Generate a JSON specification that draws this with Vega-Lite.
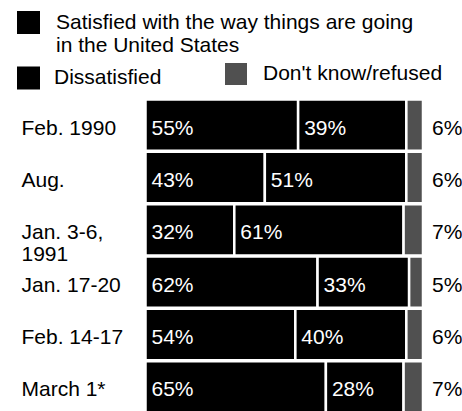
{
  "$schema": "https://vega.github.io/schema/vega-lite/v6.json",
  "autosize": "none",
  "width": 277.5,
  "height": 314,
  "padding": {"left": 145.5, "top": 99, "right": 39, "bottom": 0},
  "background": "white",
  "config": {"view": {"stroke": null}, "font": "Liberation Sans"},
  "data": {
    "values": [
      {"period": "Feb. 1990", "category": "Satisfied with the way things are going in the United States", "value": 55},
      {"period": "Feb. 1990", "category": "Dissatisfied", "value": 39},
      {"period": "Feb. 1990", "category": "Don't know/refused", "value": 6},
      {"period": "Aug.", "category": "Satisfied with the way things are going in the United States", "value": 43},
      {"period": "Aug.", "category": "Dissatisfied", "value": 51},
      {"period": "Aug.", "category": "Don't know/refused", "value": 6},
      {"period": "Jan. 3-6, 1991", "category": "Satisfied with the way things are going in the United States", "value": 32},
      {"period": "Jan. 3-6, 1991", "category": "Dissatisfied", "value": 61},
      {"period": "Jan. 3-6, 1991", "category": "Don't know/refused", "value": 7},
      {"period": "Jan. 17-20", "category": "Satisfied with the way things are going in the United States", "value": 62},
      {"period": "Jan. 17-20", "category": "Dissatisfied", "value": 33},
      {"period": "Jan. 17-20", "category": "Don't know/refused", "value": 5},
      {"period": "Feb. 14-17", "category": "Satisfied with the way things are going in the United States", "value": 54},
      {"period": "Feb. 14-17", "category": "Dissatisfied", "value": 40},
      {"period": "Feb. 14-17", "category": "Don't know/refused", "value": 6},
      {"period": "March 1*", "category": "Satisfied with the way things are going in the United States", "value": 65},
      {"period": "March 1*", "category": "Dissatisfied", "value": 28},
      {"period": "March 1*", "category": "Don't know/refused", "value": 7}
    ]
  },
  "transform": [
    {"calculate": "datum.category == 'Dissatisfied' ? 1 : (indexof(datum.category, 'Satisfied') == 0 ? 0 : 2)", "as": "k"},
    {"calculate": "datum.value + '%'", "as": "label"},
    {"stack": "value", "groupby": ["period"], "sort": [{"field": "k", "order": "ascending"}], "as": ["x0", "x1"]}
  ],
  "encoding": {
    "y": {
      "field": "period",
      "type": "nominal",
      "sort": ["Feb. 1990", "Aug.", "Jan. 3-6, 1991", "Jan. 17-20", "Feb. 14-17", "March 1*"],
      "scale": {"paddingInner": 0.02, "paddingOuter": 0.01},
      "axis": {
        "title": null,
        "domain": false,
        "ticks": false,
        "tickSize": 0,
        "labelAlign": "left",
        "labelBaseline": "middle",
        "labelPadding": 124.5,
        "labelFontSize": 21,
        "labelFont": "Liberation Sans",
        "labelColor": "black",
        "labelOffset": 3.5,
        "labelLineHeight": 22,
        "labelLimit": 300,
        "labelExpr": "datum.value == 'Jan. 3-6, 1991' ? ['Jan. 3-6,', '1991'] : datum.value"
      }
    }
  },
  "layer": [
    {
      "transform": [{"filter": "datum.k == 0"}],
      "mark": {"type": "bar", "stroke": "white", "strokeWidth": 2.5},
      "encoding": {
        "x": {"field": "x0", "type": "quantitative", "scale": {"domain": [0, 100]}, "axis": null},
        "x2": {"field": "x1"},
        "color": {
          "field": "category", "type": "nominal",
          "scale": {"range": ["black"]},
          "legend": {
            "orient": "none", "legendX": -128.5, "legendY": -88, "padding": 0,
            "title": null, "symbolType": "square", "symbolSize": 529, "symbolStrokeWidth": 0,
            "labelFontSize": 21, "labelFont": "Liberation Sans", "labelColor": "black",
            "labelOffset": 16, "labelLimit": 500,
            "labelExpr": "['Satisfied with the way things are going', 'in the United States']"
          }
        }
      }
    },
    {
      "transform": [{"filter": "datum.k == 1"}],
      "mark": {"type": "bar", "stroke": "white", "strokeWidth": 2.5},
      "encoding": {
        "x": {"field": "x0", "type": "quantitative"},
        "x2": {"field": "x1"},
        "color": {
          "field": "category", "type": "nominal",
          "scale": {"range": ["black"]},
          "legend": {
            "orient": "none", "legendX": -128.5, "legendY": -32.5, "padding": 0,
            "title": null, "symbolType": "square", "symbolSize": 529, "symbolStrokeWidth": 0,
            "labelFontSize": 21, "labelFont": "Liberation Sans", "labelColor": "black",
            "labelOffset": 14, "labelLimit": 500
          }
        }
      }
    },
    {
      "transform": [{"filter": "datum.k == 2"}],
      "mark": {"type": "bar", "stroke": "white", "strokeWidth": 2.5},
      "encoding": {
        "x": {"field": "x0", "type": "quantitative"},
        "x2": {"field": "x1"},
        "color": {
          "field": "category", "type": "nominal",
          "scale": {"range": ["#505050"]},
          "legend": {
            "orient": "none", "legendX": 79.5, "legendY": -36, "padding": 0,
            "title": null, "symbolType": "square", "symbolSize": 484, "symbolStrokeWidth": 0,
            "labelFontSize": 21, "labelFont": "Liberation Sans", "labelColor": "black",
            "labelOffset": 16, "labelLimit": 500
          }
        }
      }
    },
    {
      "transform": [{"filter": "datum.k < 2"}],
      "mark": {"type": "text", "align": "left", "baseline": "middle", "dx": 6, "dy": 3.5, "fill": "white", "fontSize": 21, "font": "Liberation Sans"},
      "encoding": {
        "x": {"field": "x0", "type": "quantitative"},
        "text": {"field": "label"}
      }
    },
    {
      "transform": [{"filter": "datum.k == 2"}],
      "mark": {"type": "text", "align": "left", "baseline": "middle", "dx": 9, "dy": 3.5, "fill": "black", "fontSize": 21, "font": "Liberation Sans"},
      "encoding": {
        "x": {"field": "x1", "type": "quantitative"},
        "text": {"field": "label"}
      }
    }
  ],
  "resolve": {"scale": {"color": "independent"}, "legend": {"color": "independent"}}
}
